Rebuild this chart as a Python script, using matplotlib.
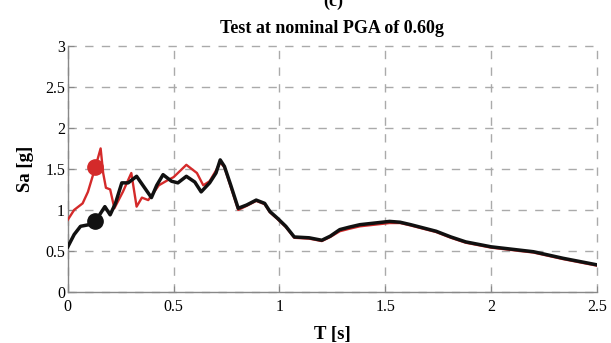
import matplotlib
matplotlib.use("Agg")
import matplotlib.pyplot as plt

# ---- data ----
T_black = [0, 0.03, 0.06, 0.10, 0.13, 0.155, 0.175, 0.20, 0.225, 0.255, 0.285, 0.325, 0.36, 0.395,
           0.42, 0.45, 0.49, 0.52, 0.56, 0.60, 0.63, 0.67, 0.70, 0.72, 0.74, 0.77, 0.805, 0.845,
           0.89, 0.93, 0.955, 0.99, 1.03, 1.07, 1.14, 1.20, 1.24, 1.285, 1.33, 1.38, 1.45, 1.52,
           1.57, 1.62, 1.68, 1.74, 1.81, 1.88, 1.94, 2.00, 2.10, 2.20, 2.27, 2.34, 2.42, 2.50]
Sa_black = [0.55, 0.70, 0.80, 0.82, 0.86, 0.96, 1.04, 0.94, 1.08, 1.33, 1.33, 1.41, 1.28, 1.15,
            1.30, 1.43, 1.35, 1.33, 1.41, 1.34, 1.22, 1.33, 1.45, 1.61, 1.53, 1.30, 1.02, 1.06,
            1.12, 1.08, 0.98, 0.90, 0.80, 0.67, 0.66, 0.63, 0.68, 0.76, 0.79, 0.82, 0.84, 0.86,
            0.85, 0.82, 0.78, 0.74, 0.67, 0.61, 0.58, 0.55, 0.52, 0.49, 0.45, 0.41, 0.37, 0.33]

T_red = [0, 0.03, 0.07, 0.095, 0.13, 0.155, 0.167, 0.18, 0.20, 0.22, 0.26, 0.30, 0.325, 0.35,
         0.38, 0.43, 0.47, 0.50, 0.56, 0.61, 0.64, 0.67, 0.70, 0.72, 0.74, 0.77, 0.805, 0.845,
         0.89, 0.93, 0.955, 0.99, 1.03, 1.07, 1.14, 1.20, 1.24, 1.285, 1.33, 1.38, 1.45, 1.52,
         1.57, 1.62, 1.68, 1.74, 1.81, 1.88, 1.94, 2.00, 2.10, 2.20, 2.27, 2.34, 2.42, 2.50]
Sa_red = [0.88, 1.00, 1.08, 1.22, 1.52, 1.75, 1.45, 1.27, 1.25, 1.02, 1.22, 1.45, 1.04, 1.15,
          1.12, 1.30, 1.36, 1.40, 1.55, 1.45, 1.30, 1.35, 1.48, 1.58, 1.52, 1.28, 1.00, 1.05,
          1.11, 1.07, 0.97, 0.89, 0.79, 0.66, 0.65, 0.62, 0.67, 0.74, 0.77, 0.80, 0.82, 0.84,
          0.84, 0.81, 0.77, 0.73, 0.66, 0.60, 0.57, 0.54, 0.51, 0.48, 0.44, 0.40, 0.36, 0.32]

marker_T = 0.13
marker_red = 1.52
marker_black = 0.86

title = "Test at nominal PGA of 0.60g"
panel_label = "(c)"
xlabel = "T [s]"
ylabel = "Sa [g]"
xticks = [0, 0.5, 1, 1.5, 2, 2.5]
xticklabels = ["0", "0.5", "1", "1.5", "2", "2.5"]
yticks = [0, 0.5, 1, 1.5, 2, 2.5, 3]
yticklabels = ["0", "0.5", "1", "1.5", "2", "2.5", "3"]

# ---- plot ----
plt.rcParams['font.family'] = ['Liberation Serif', 'DejaVu Serif']
fig = plt.figure(figsize=(6.11, 3.43), dpi=100)
ax = fig.add_axes([0.111, 0.149, 0.866, 0.717])

red = '#d42a2a'
ax.plot(T_red, Sa_red, color=red, lw=1.7, zorder=3)
ax.plot(T_black, Sa_black, color='#111111', lw=2.5, zorder=4)
ax.plot([marker_T], [marker_red], 'o', color=red, ms=11, zorder=5)
ax.plot([marker_T], [marker_black], 'o', color='#111111', ms=11, zorder=5)

ax.set_xlim(0, 2.5)
ax.set_ylim(0, 3)
ax.set_xticks(xticks)
ax.set_xticklabels(xticklabels)
ax.set_yticks(yticks)
ax.set_yticklabels(yticklabels)
ax.tick_params(direction='in', length=4, color='#888888', labelsize=11.5)
ax.tick_params(axis='x', pad=5)
ax.tick_params(axis='y', pad=2)
ax.grid(True, ls=(0, (6, 6)), color='#aaaaaa', lw=1.0, clip_on=False)
for s in ['top', 'right']:
    ax.spines[s].set_visible(False)
for s in ['left', 'bottom']:
    ax.spines[s].set_color('#888888')
    ax.spines[s].set_linewidth(1.0)

ax.set_title(title, fontsize=13, fontweight='bold', pad=9)
ax.set_xlabel(xlabel, fontsize=13.5, fontweight='bold', labelpad=8)
ax.set_ylabel(ylabel, fontsize=13.5, fontweight='bold', labelpad=8)
fig.text(0.545, 0.995, panel_label, fontsize=13, fontweight='bold', ha='center', va='center')

fig.savefig("out.png", dpi=100)
